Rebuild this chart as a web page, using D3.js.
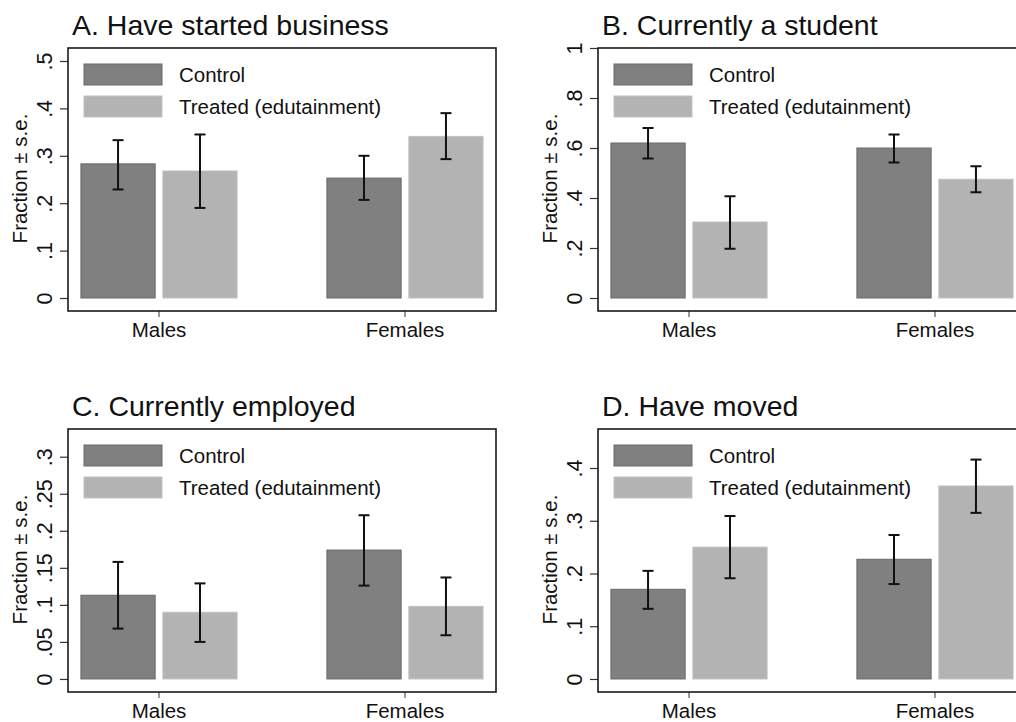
<!DOCTYPE html>
<html>
<head>
<meta charset="utf-8">
<script src="https://cdn.jsdelivr.net/npm/d3@7/dist/d3.min.js"></script>
<style>
  body { margin: 0; background: #fff; }
  svg { display: block; font-family: "Liberation Sans", Arial, sans-serif; }
</style>
</head>
<body>
<div id="chart"></div>
<script>
const groups = ["Males", "Females"];
const seriesNames = ["Control", "Treated (edutainment)"];
const titles = ["A. Have started business", "B. Currently a student", "C. Currently employed", "D. Have moved"];

// [control, treated] per group, for each panel
const meansA = [[0.283, 0.268], [0.253, 0.341]];
const lowA   = [[0.229, 0.190], [0.207, 0.293]];
const highA  = [[0.333, 0.345], [0.300, 0.390]];

const meansB = [[0.620, 0.304], [0.600, 0.475]];
const lowB   = [[0.558, 0.197], [0.542, 0.423]];
const highB  = [[0.680, 0.407], [0.654, 0.527]];

const meansC = [[0.113, 0.090], [0.174, 0.098]];
const lowC   = [[0.068, 0.050], [0.126, 0.059]];
const highC  = [[0.158, 0.129], [0.221, 0.137]];

const meansD = [[0.170, 0.250], [0.227, 0.366]];
const lowD   = [[0.133, 0.191], [0.180, 0.315]];
const highD  = [[0.205, 0.309], [0.273, 0.416]];

const ticksA = [0, 0.1, 0.2, 0.3, 0.4, 0.5];
const ticksB = [0, 0.2, 0.4, 0.6, 0.8, 1];
const ticksC = [0, 0.05, 0.1, 0.15, 0.2, 0.25, 0.3];
const ticksD = [0, 0.1, 0.2, 0.3, 0.4];

// axis range of each plot region
const rangeA = [-0.0274, 0.5274];
const rangeB = [-0.052, 1.0];
const rangeC = [-0.0176, 0.3374];
const rangeD = [-0.0247, 0.474];

const panels = [
  { title: titles[0], means: meansA, low: lowA, high: highA, ticks: ticksA, range: rangeA },
  { title: titles[1], means: meansB, low: lowB, high: highB, ticks: ticksB, range: rangeB },
  { title: titles[2], means: meansC, low: lowC, high: highC, ticks: ticksC, range: rangeC },
  { title: titles[3], means: meansD, low: lowD, high: highD, ticks: ticksD, range: rangeD }
];

const W = 1016, H = 722;
const fills = ["#808080", "#b3b3b3"];
const strokes = ["#6a6a6a", "#c2c2c2"];

const svg = d3.select("#chart").append("svg")
  .attr("width", W).attr("height", H);

const box = { left: 68, right: 496, top: 48, bottom: 311 };

function fmt(v) {
  if (v === 0) return "0";
  return String(+v.toFixed(2)).replace(/^0/, "");
}

panels.forEach((p, i) => {
  const g = svg.append("g")
    .attr("transform", `translate(${(i % 2) * 530},${Math.floor(i / 2) * 381})`);

  const x0 = d3.scaleBand().domain(groups)
    .range([box.left, box.right]).paddingInner(0.365).paddingOuter(0.0525);
  const x1 = d3.scaleBand().domain([0, 1])
    .range([0, x0.bandwidth()]).paddingInner(0.094);
  const y = d3.scaleLinear().domain(p.range).range([box.bottom, box.top]);

  // title
  g.append("text")
    .attr("x", 72).attr("y", 35)
    .attr("font-size", 28.5)
    .attr("fill", "#111")
    .text(p.title);

  // bars
  groups.forEach((grp, gi) => {
    const gg = g.append("g").attr("transform", `translate(${x0(grp)},0)`);
    [0, 1].forEach(s => {
      gg.append("rect")
        .attr("x", x1(s)).attr("width", x1.bandwidth())
        .attr("y", y(p.means[gi][s]))
        .attr("height", y(0) - y(p.means[gi][s]))
        .attr("fill", fills[s])
        .attr("stroke", strokes[s]).attr("stroke-width", 1);
    });
    // error bars
    [0, 1].forEach(s => {
      const cx = x1(s) + x1.bandwidth() / 2;
      const eb = gg.append("g").attr("stroke", "#111").attr("stroke-width", 2);
      eb.append("line").attr("x1", cx).attr("x2", cx)
        .attr("y1", y(p.low[gi][s])).attr("y2", y(p.high[gi][s]));
      [p.low[gi][s], p.high[gi][s]].forEach(v => {
        eb.append("line").attr("x1", cx - 5.5).attr("x2", cx + 5.5)
          .attr("y1", y(v)).attr("y2", y(v));
      });
    });
  });

  // legend
  const lg = g.append("g");
  seriesNames.forEach((name, s) => {
    lg.append("rect")
      .attr("x", 84).attr("y", 64 + s * 32)
      .attr("width", 78).attr("height", 21)
      .attr("fill", fills[s]).attr("stroke", strokes[s]).attr("stroke-width", 1);
    lg.append("text")
      .attr("x", 179).attr("y", 82 + s * 32)
      .attr("font-size", 20.5).attr("fill", "#111")
      .text(name);
  });

  // y axis
  const yAxis = g.append("g")
    .attr("transform", `translate(${box.left},0)`)
    .call(d3.axisLeft(y).tickValues(p.ticks).tickFormat(fmt).tickSize(8).tickSizeOuter(0));
  yAxis.select(".domain").remove();
  yAxis.selectAll(".tick line").attr("stroke", "#333").attr("stroke-width", 1.2);
  yAxis.selectAll(".tick text")
    .attr("x", null).attr("dy", null)
    .attr("transform", "translate(-16,0) rotate(-90)")
    .attr("text-anchor", "middle")
    .attr("font-size", 21.5).attr("fill", "#111")
    .attr("font-family", "Liberation Sans, Arial, sans-serif");

  // x axis
  const xAxis = g.append("g")
    .attr("transform", `translate(0,${box.bottom})`)
    .call(d3.axisBottom(x0).tickSize(6).tickSizeOuter(0));
  xAxis.select(".domain").remove();
  xAxis.selectAll(".tick line").attr("stroke", "#555").attr("stroke-width", 1.2);
  xAxis.selectAll(".tick text")
    .attr("y", 26).attr("dy", null)
    .attr("font-size", 20.5).attr("fill", "#111")
    .attr("font-family", "Liberation Sans, Arial, sans-serif");

  // y axis title
  g.append("text")
    .attr("transform", `translate(27,${(box.top + box.bottom) / 2 - 1}) rotate(-90)`)
    .attr("text-anchor", "middle")
    .attr("font-size", 20.5).attr("fill", "#111")
    .text("Fraction \u00b1 s.e.");

  // frame
  g.append("rect")
    .attr("x", box.left).attr("y", box.top)
    .attr("width", box.right - box.left).attr("height", box.bottom - box.top)
    .attr("fill", "none").attr("stroke", "#1a1a1a").attr("stroke-width", 1.6);
});
</script>
</body>
</html>
